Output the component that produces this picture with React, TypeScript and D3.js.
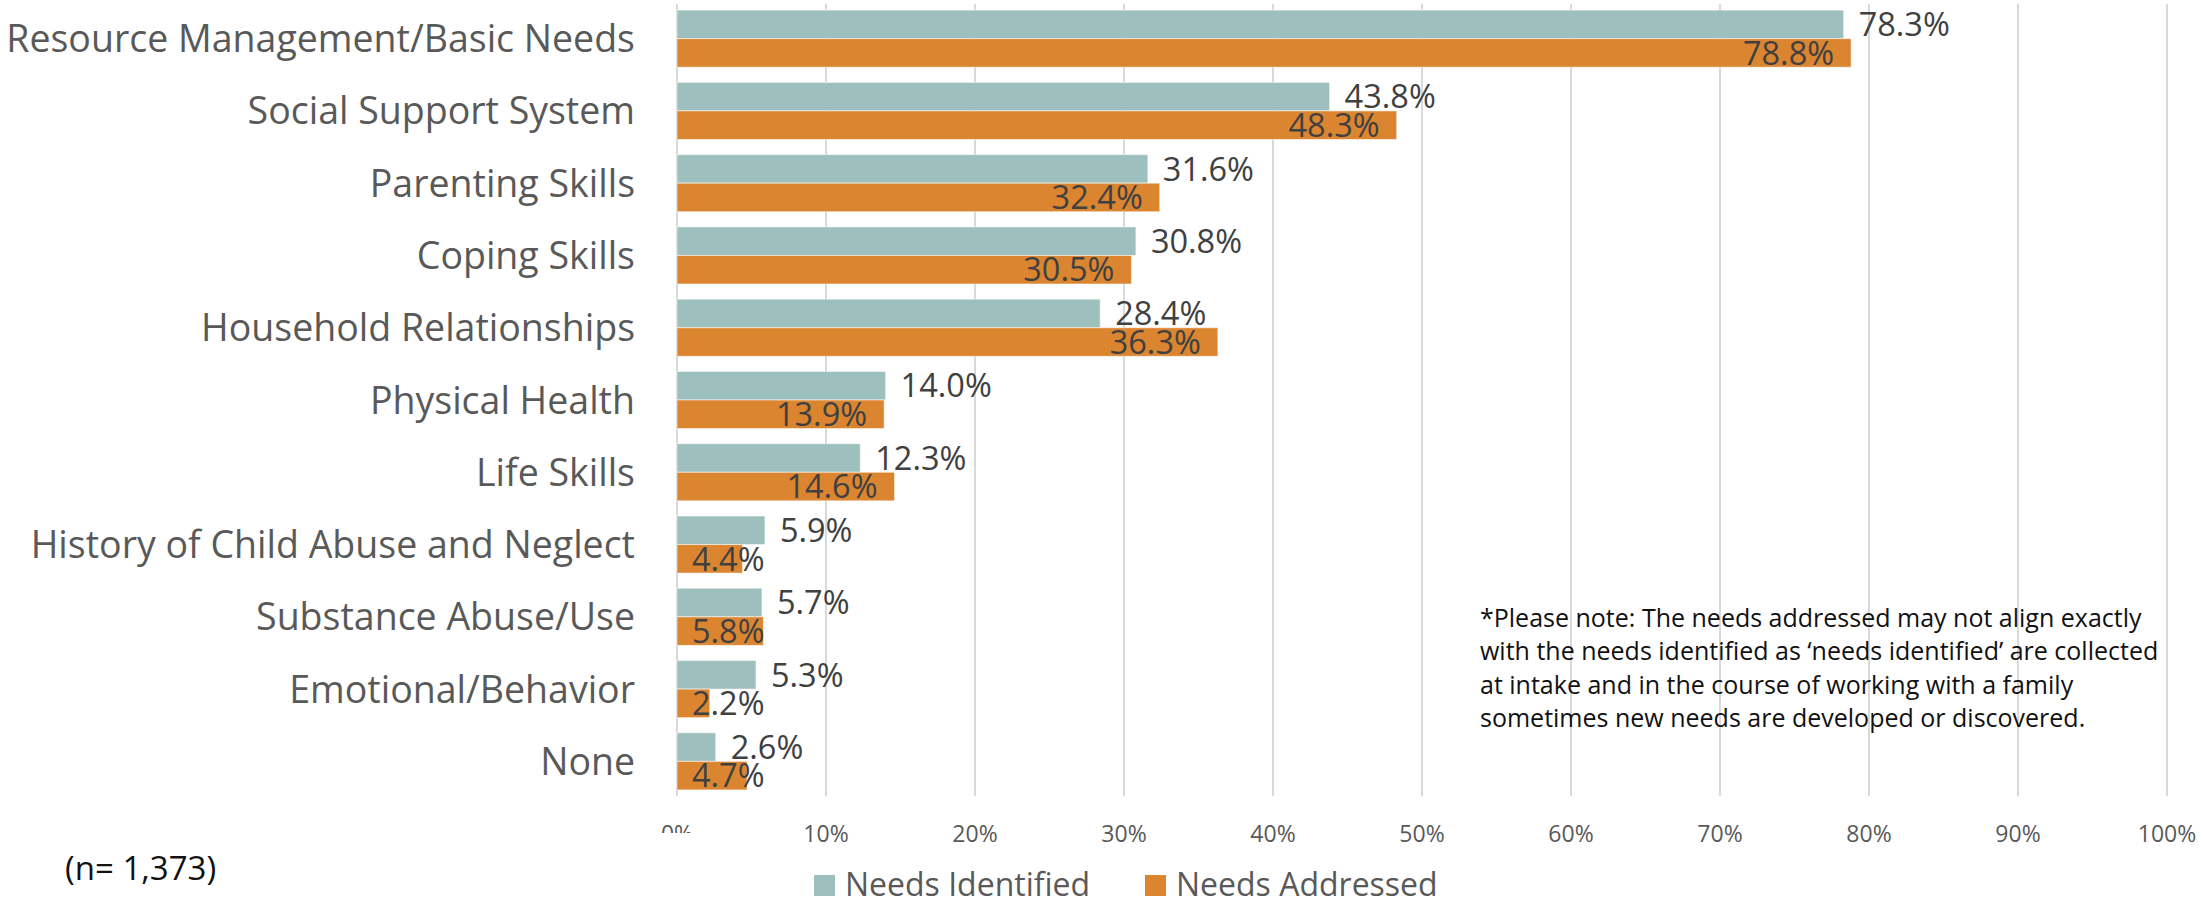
import React from "react";
import * as d3 from "d3";

const categories = [
  "Resource Management/Basic Needs",
  "Social Support System",
  "Parenting Skills",
  "Coping Skills",
  "Household Relationships",
  "Physical Health",
  "Life Skills",
  "History of Child Abuse and Neglect",
  "Substance Abuse/Use",
  "Emotional/Behavior",
  "None",
];
const needsIdentified = [78.3, 43.8, 31.6, 30.8, 28.4, 14.0, 12.3, 5.9, 5.7, 5.3, 2.6];
const needsAddressed = [78.8, 48.3, 32.4, 30.5, 36.3, 13.9, 14.6, 4.4, 5.8, 2.2, 4.7];
const tickValues = [0, 10, 20, 30, 40, 50, 60, 70, 80, 90, 100];
const seriesNames = ["Needs Identified", "Needs Addressed"];
const noteLines = [
  "*Please note: The needs addressed may not align exactly",
  "with the needs identified as \u2018needs identified\u2019 are collected",
  "at intake and in the course of working with a family",
  "sometimes new needs are developed or discovered.",
];
const sampleNote = "(n= 1,373)";

const W = 2203;
const H = 904;
const FONT = "'Open Sans', 'Noto Sans', sans-serif";
const TEAL = "#9DBFBE";
const ORANGE = "#DB8531";
const GRID = "#D9D9D9";

let ctx: CanvasRenderingContext2D | null = null;
function textWidth(t: string, size: number) {
  if (!ctx) ctx = document.createElement("canvas").getContext("2d");
  if (!ctx) return t.length * size * 0.55;
  ctx.font = `${size}px 'Open Sans'`;
  return ctx.measureText(t).width;
}

export default function App() {
  const x = d3.scaleLinear().domain([0, 100]).range([677, 2167]);
  const y = d3
    .scaleBand<string>()
    .domain(categories)
    .range([2.5, 797.5])
    .paddingInner(0.21)
    .paddingOuter(0.105);
  const sub = d3.scaleBand<string>().domain(seriesNames).range([0, y.bandwidth()]);
  const fmt = (v: number) => d3.format(".1f")(v) + "%";
  const valSize = 32.5;

  return (
    <svg
      width={W}
      height={H}
      style={{ position: "fixed", left: 0, top: 0, background: "#fff" }}
      fontFamily={FONT}
    >
      <defs>
        <clipPath id="zeroClip">
          <rect x={0} y={0} width={W} height={833} />
        </clipPath>
      </defs>
      <rect x={0} y={0} width={W} height={H} fill="#fff" />
      {/* gridlines */}
      {tickValues.map((t) => (
        <line
          key={t}
          x1={x(t)}
          x2={x(t)}
          y1={4}
          y2={796}
          stroke={GRID}
          strokeWidth={2}
        />
      ))}
      {/* tick labels */}
      {tickValues.map((t) => (
        <text
          key={t}
          x={x(t)}
          y={842}
          fontSize={23}
          fill="#595959"
          textAnchor="middle"
          clipPath={t === 0 ? "url(#zeroClip)" : undefined}
        >
          {t}%
        </text>
      ))}
      {/* bars */}
      {categories.map((c, i) => {
        const y0 = y(c)!;
        const yi = y0 + sub(seriesNames[0])!;
        const ya = y0 + sub(seriesNames[1])!;
        const bh = sub.bandwidth();
        const vi = needsIdentified[i];
        const va = needsAddressed[i];
        const ai = fmt(va);
        const aw = textWidth(ai, valSize);
        const aRight = Math.max(x(va) - 17, x(0) + 15 + aw);
        return (
          <g key={c}>
            <rect
              x={x(0)}
              y={yi}
              width={x(vi) - x(0)}
              height={bh}
              fill={TEAL}
              stroke="rgba(255,255,255,0.55)"
              strokeWidth={1}
            />
            <rect
              x={x(0)}
              y={ya}
              width={x(va) - x(0)}
              height={bh}
              fill={ORANGE}
              stroke="rgba(255,255,255,0.55)"
              strokeWidth={1}
            />
            <text
              x={x(vi) + 15}
              y={yi + bh / 2}
              dy="0.36em"
              fontSize={valSize}
              fill="#404040"
            >
              {fmt(vi)}
            </text>
            <text
              x={aRight}
              y={ya + bh / 2}
              dy="0.36em"
              fontSize={valSize}
              fill="#404040"
              textAnchor="end"
            >
              {ai}
            </text>
            <text
              x={635}
              y={y0 + y.bandwidth() / 2}
              dy="0.36em"
              fontSize={37.5}
              fill="#595959"
              textAnchor="end"
            >
              {c}
            </text>
          </g>
        );
      })}
      {/* legend */}
      <rect x={814} y={875} width={21} height={21} fill={TEAL} />
      <text x={845} y={896} fontSize={32} fill="#595959">
        {seriesNames[0]}
      </text>
      <rect x={1145} y={875} width={21} height={21} fill={ORANGE} />
      <text x={1176} y={896} fontSize={32} fill="#595959">
        {seriesNames[1]}
      </text>
      {/* sample size */}
      <text x={65} y={880} fontSize={33} fill="#111">
        {sampleNote}
      </text>
      {/* note */}
      {noteLines.map((l, i) => (
        <text key={i} x={1480} y={627 + i * 33.3} fontSize={25} fill="#111">
          {l}
        </text>
      ))}
    </svg>
  );
}
